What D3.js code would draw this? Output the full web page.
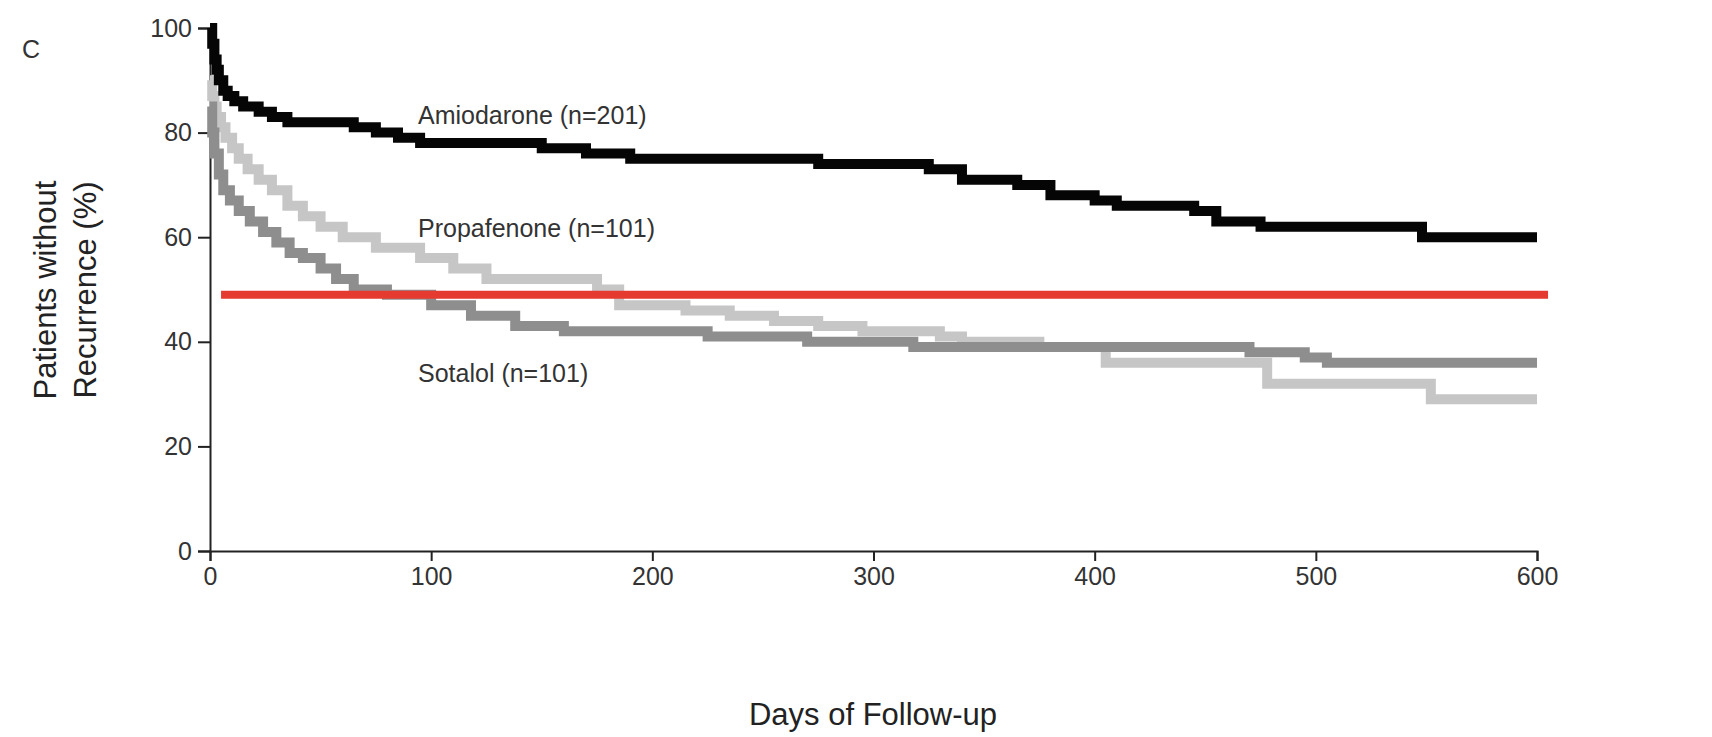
<!DOCTYPE html>
<html><head><meta charset="utf-8">
<script src="https://cdn.jsdelivr.net/npm/d3@7"></script>
<style>body{margin:0;background:#fff}text{font-family:"Liberation Sans",Arial,sans-serif}</style>
</head><body><svg id="c" width="1712" height="737"></svg>
<script>
// step points: [day, percent]
const amiodarone = [[0,100],[1,97],[2,94],[3,92],[4,90],[6,88],[8,87],[11,86],[15,85],[22,84],[28,83],[35,82],[65,81],[75,80],[85,79],[95,78],[150,77],[170,76],[190,75],[275,74],[325,73],[340,71],[365,70],[380,68],[400,67],[410,66],[445,65],[455,63],[475,62],[548,60],[600,60]];
const propafenone = [[0,90],[1,87],[2,85],[3,83],[5,81],[7,79],[10,77],[13,75],[17,73],[22,71],[28,69],[35,66],[42,64],[50,62],[60,60],[75,58],[95,56],[110,54],[125,52],[175,50],[185,47],[215,46],[235,45],[255,44],[275,43],[295,42],[330,41],[340,40],[375,39],[405,36],[478,32],[552,29],[600,29]];
const sotalol = [[0,85],[1,80],[2,76],[4,72],[6,69],[9,67],[13,65],[18,63],[24,61],[30,59],[36,57],[42,56],[50,54],[57,52],[65,50],[80,49],[100,47],[118,45],[138,43],[160,42],[225,41],[270,40],[318,39],[470,38],[495,37],[505,36],[600,36]];
const refLine = 49;
const xTicks = [0,100,200,300,400,500,600];
const yTicks = [0,20,40,60,80,100];

const svg = d3.select("#c");
const x = d3.scaleLinear().domain([0,600]).range([210,1537]);
const y = d3.scaleLinear().domain([0,100]).range([551,28]);

svg.append("g").attr("transform","translate(0,551)")
  .call(d3.axisBottom(x).tickValues(xTicks).tickSize(10).tickPadding(6))
  .call(g=>{g.selectAll("text").attr("font-size",25).attr("fill","#333");g.selectAll("line,path").attr("stroke","#222").attr("stroke-width",2);});
svg.append("g").attr("transform","translate(210,0)")
  .call(d3.axisLeft(y).tickValues(yTicks).tickSize(12).tickPadding(6))
  .call(g=>{g.selectAll("text").attr("font-size",25).attr("fill","#333");g.selectAll("line,path").attr("stroke","#222").attr("stroke-width",2);});

const line = d3.line().x(d=>x(d[0])).y(d=>y(d[1])).curve(d3.curveStepAfter);
[[propafenone,"#c6c6c6"],[sotalol,"#8e8e8e"],[amiodarone,"#050505"]].forEach(([d,c])=>{
  svg.append("path").attr("d",line(d)).attr("fill","none").attr("stroke",c).attr("stroke-width",10);
});
svg.append("line").attr("x1",x(5)).attr("x2",x(605)).attr("y1",y(refLine)).attr("y2",y(refLine))
  .attr("stroke","#e53a30").attr("stroke-width",8);

const lab = [["Amiodarone (n=201)",115],["Propafenone (n=101)",228],["Sotalol (n=101)",373]];
lab.forEach(([t,yy])=>svg.append("text").attr("x",418).attr("y",yy+9).attr("font-size",25).attr("fill","#333").text(t));
svg.append("text").attr("x",22).attr("y",58).attr("font-size",25).attr("fill","#333").text("C");
svg.append("text").attr("x",873).attr("y",725).attr("text-anchor","middle").attr("font-size",31).attr("fill","#222").text("Days of Follow-up");
const yl = svg.append("text").attr("transform","translate(0,290) rotate(-90)").attr("text-anchor","middle").attr("font-size",31).attr("fill","#222");
yl.append("tspan").attr("x",0).attr("y",56).text("Patients without");
yl.append("tspan").attr("x",0).attr("y",96).text("Recurrence (%)");
</script></body></html>
